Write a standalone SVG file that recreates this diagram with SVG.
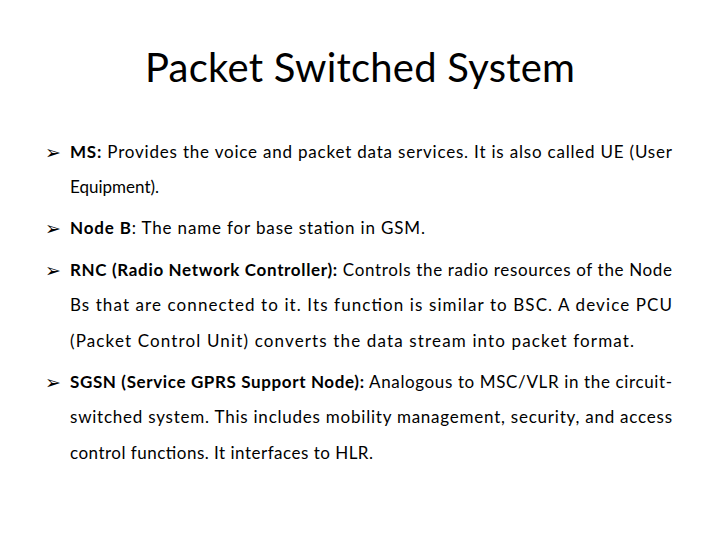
<svg xmlns="http://www.w3.org/2000/svg" width="720" height="540" viewBox="0 0 720 540">
<style>
.t{font-family:Lato,"Open Sans",sans-serif;font-size:17px;fill:#000}
.b{font-weight:bold}
.bl{font-family:"DejaVu Sans",sans-serif;font-size:19px;fill:#000}
</style>
<rect width="720" height="540" fill="#fff"/>
<g id="title"><text x="360" y="82" text-anchor="middle" font-family="Lato,'Open Sans',sans-serif" font-size="40" textLength="430">Packet Switched System</text></g>
<g id="bullets">
<text class="bl" x="45" y="159">➢</text>
<text class="bl" x="45" y="235">➢</text>
<text class="bl" x="45" y="277">➢</text>
<text class="bl" x="45" y="389">➢</text>
</g>
<g id="ms">
<text class="t" x="70" y="158" textLength="602"><tspan class="b">MS:</tspan> Provides the voice and packet data services. It is also called UE (User</text>
<text class="t" x="70" y="193">Equipment).</text>
</g>
<g id="nodeb">
<text class="t" x="70" y="234" textLength="355"><tspan class="b">Node B</tspan>: The name for base station in GSM.</text>
</g>
<g id="rnc">
<text class="t" x="70" y="276" textLength="602"><tspan class="b">RNC (Radio Network Controller):</tspan> Controls the radio resources of the Node</text>
<text class="t" x="70" y="311" textLength="602">Bs that are connected to it. Its function is similar to BSC. A device PCU</text>
<text class="t" x="70" y="347" textLength="564">(Packet Control Unit) converts the data stream into packet format.</text>
</g>
<g id="sgsn">
<text class="t" x="70" y="388" textLength="602"><tspan class="b">SGSN (Service GPRS Support Node):</tspan> Analogous to MSC/VLR in the circuit-</text>
<text class="t" x="70" y="423" textLength="602">switched system. This includes mobility management, security, and access</text>
<text class="t" x="70" y="459" textLength="303">control functions. It interfaces to HLR.</text>
</g>
</svg>
